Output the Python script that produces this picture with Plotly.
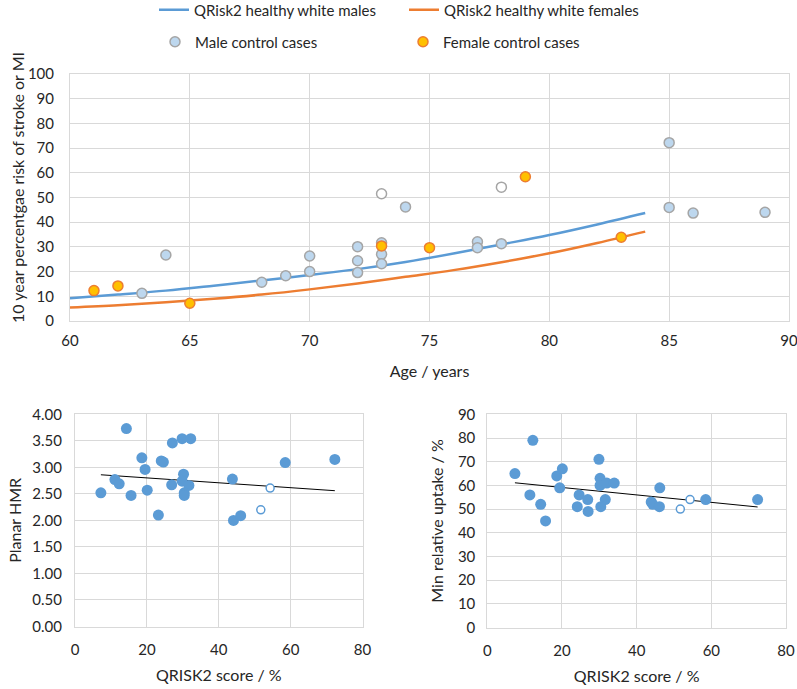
import plotly.graph_objects as go

# ---------------- data ----------------
# Top chart: QRisk2 curves (age in years, 10-year risk %)
curve_age = [60, 62, 64, 66, 68, 70, 72, 74, 76, 78, 80, 82, 84]
curve_male = [9.2, 10.7, 12.3, 14.3, 16.4, 18.6, 21.0, 23.9, 27.3, 31.0, 34.8, 39.1, 43.7]
curve_female = [5.5, 6.4, 7.6, 9.0, 10.7, 12.8, 15.2, 17.9, 20.6, 23.8, 27.4, 31.6, 36.2]

male_age = [63, 64, 68, 69, 70, 70, 72, 72, 72, 73, 73, 73, 74, 77, 77, 78, 85, 85, 86, 89]
male_risk = [11.2, 26.7, 15.7, 18.3, 26.3, 20.0, 30.1, 24.4, 19.6, 31.7, 27.0, 23.2, 46.2,
             32.1, 29.7, 31.3, 72.2, 46.0, 43.7, 44.0]
male_open_age = [73, 78]
male_open_risk = [51.5, 54.2]

female_age = [61, 62, 65, 73, 75, 79, 83]
female_risk = [12.3, 14.2, 7.2, 30.4, 29.7, 58.4, 33.9]

# Bottom-left: Planar HMR vs QRISK2 score
hmr_score = [14.3, 27.1, 29.8, 32.2, 18.6, 24.0, 24.6, 19.5, 30.2, 29.8, 11.1, 12.3, 26.9,
             31.7, 30.4, 30.4, 7.2, 15.6, 20.1, 23.2, 43.8, 44.1, 46.1, 58.5, 72.3]
hmr_value = [3.73, 3.46, 3.54, 3.54, 3.18, 3.12, 3.10, 2.96, 2.87, 2.74, 2.77, 2.69, 2.67,
             2.66, 2.52, 2.47, 2.52, 2.47, 2.57, 2.10, 2.78, 2.00, 2.09, 3.09, 3.15]
hmr_open_score = [54.3, 51.7]
hmr_open_value = [2.61, 2.20]
hmr_trend_score = [7.2, 72.3]
hmr_trend_value = [2.86, 2.56]

# Bottom-right: Min relative uptake vs QRISK2 score
upt_score = [7.4, 12.2, 11.4, 14.3, 15.6, 18.6, 20.1, 19.4, 24.6, 24.1, 26.9, 27.0, 29.9,
             30.2, 30.2, 32.0, 34.0, 31.6, 30.4, 43.9, 44.3, 46.2, 46.1, 58.5, 72.4]
upt_value = [65, 79, 56, 52, 45, 64, 67, 59, 56, 51, 54, 49, 71, 63, 60, 61, 61, 54, 51,
             53, 52, 59, 51, 54, 54]
upt_open_score = [54.3, 51.7]
upt_open_value = [54, 50]
upt_trend_score = [7.4, 72.4]
upt_trend_value = [61.1, 50.9]

# ---------------- styling ----------------
FONT = "Lato, 'Liberation Sans', sans-serif"
TXT = "#262626"
GRID = "#d9d9d9"
BLUE = "#5b9bd5"
ORANGE = "#ed7d31"
W, H = 797, 689

def px_x(p):
    return p / W

def px_y(p):
    return 1 - p / H

fig = go.Figure()

fig.add_trace(go.Scatter(x=curve_age, y=curve_male, mode="lines", line=dict(color=BLUE, width=2.5, shape="spline"),
                         name="QRisk2 healthy white males", legend="legend", xaxis="x", yaxis="y"))
fig.add_trace(go.Scatter(x=curve_age, y=curve_female, mode="lines", line=dict(color=ORANGE, width=2.5, shape="spline"),
                         name="QRisk2 healthy white females", legend="legend2", xaxis="x", yaxis="y"))
fig.add_trace(go.Scatter(x=male_age, y=male_risk, mode="markers",
                         marker=dict(size=10, color="#bdd7ee", line=dict(color="#a5a5a5", width=1.5)),
                         name="Male control cases", legend="legend3", xaxis="x", yaxis="y"))
fig.add_trace(go.Scatter(x=male_open_age, y=male_open_risk, mode="markers",
                         marker=dict(size=10, color="white", line=dict(color="#a5a5a5", width=1.5)),
                         showlegend=False, xaxis="x", yaxis="y"))
fig.add_trace(go.Scatter(x=female_age, y=female_risk, mode="markers",
                         marker=dict(size=10, color="#ffc000", line=dict(color=ORANGE, width=1.5)),
                         name="Female control cases", legend="legend4", xaxis="x", yaxis="y"))

# bottom-left
fig.add_trace(go.Scatter(x=hmr_trend_score, y=hmr_trend_value, mode="lines", line=dict(color="black", width=1),
                         showlegend=False, xaxis="x2", yaxis="y2"))
fig.add_trace(go.Scatter(x=hmr_score, y=hmr_value, mode="markers", marker=dict(size=11, color=BLUE),
                         showlegend=False, xaxis="x2", yaxis="y2"))
fig.add_trace(go.Scatter(x=hmr_open_score, y=hmr_open_value, mode="markers",
                         marker=dict(size=8, color="white", line=dict(color=BLUE, width=1.5)),
                         showlegend=False, xaxis="x2", yaxis="y2"))
# bottom-right
fig.add_trace(go.Scatter(x=upt_trend_score, y=upt_trend_value, mode="lines", line=dict(color="black", width=1),
                         showlegend=False, xaxis="x3", yaxis="y3"))
fig.add_trace(go.Scatter(x=upt_score, y=upt_value, mode="markers", marker=dict(size=11, color=BLUE),
                         showlegend=False, xaxis="x3", yaxis="y3"))
fig.add_trace(go.Scatter(x=upt_open_score, y=upt_open_value, mode="markers",
                         marker=dict(size=8, color="white", line=dict(color=BLUE, width=1.5)),
                         showlegend=False, xaxis="x3", yaxis="y3"))

axis_common = dict(showgrid=True, gridcolor=GRID, gridwidth=1, showline=True, linecolor=GRID, linewidth=1,
                   mirror=True, zeroline=False, ticks="", tickfont=dict(family=FONT, size=15, color=TXT),
                   fixedrange=True, automargin=False, ticklabeloverflow="allow")

legend_common = dict(orientation="h", bgcolor="rgba(0,0,0,0)", borderwidth=0,
                     font=dict(family=FONT, size=15, color=TXT), xanchor="left", yanchor="middle",
                     xref="container", yref="container", itemclick=False)

TITLE_FONT = dict(family=FONT, size=16, color=TXT)

fig.update_layout(
    template="none",
    width=W, height=H, paper_bgcolor="white", plot_bgcolor="white",
    margin=dict(l=0, r=0, t=0, b=0, autoexpand=False),
    font=dict(family=FONT, color=TXT),
    xaxis=dict(axis_common, domain=[px_x(70), px_x(789)], range=[60, 90], dtick=5, tick0=60,
               ticklabelstandoff=6, anchor="y",
               title=dict(text="Age / years", font=TITLE_FONT, standoff=17)),
    yaxis=dict(axis_common, domain=[px_y(321), px_y(74)], range=[0, 100], dtick=10,
               ticklabelstandoff=12, anchor="x"),
    xaxis2=dict(axis_common, domain=[px_x(75), px_x(362.5)], range=[0, 80], dtick=20, anchor="y2",
                ticklabelstandoff=9,
                title=dict(text="QRISK2 score / %", font=TITLE_FONT, standoff=13)),
    yaxis2=dict(axis_common, domain=[px_y(626.5), px_y(414.3)], range=[0, 4], dtick=0.5, tickformat=".2f",
                anchor="x2", ticklabelstandoff=9,
                title=dict(text="Planar HMR", font=TITLE_FONT, standoff=6)),
    xaxis3=dict(axis_common, domain=[px_x(487.3), px_x(786)], range=[0, 80], dtick=20, anchor="y3",
                ticklabelstandoff=9,
                title=dict(text="QRISK2 score / %", font=TITLE_FONT, standoff=13)),
    yaxis3=dict(axis_common, domain=[px_y(627.6), px_y(414.3)], range=[0, 90], dtick=10,
                anchor="x3", ticklabelstandoff=8,
                title=dict(text="Min relative uptake / %", font=TITLE_FONT, standoff=10)),
    legend=dict(legend_common, x=px_x(154), y=px_y(10)),
    legend2=dict(legend_common, x=px_x(404), y=px_y(10)),
    legend3=dict(legend_common, x=px_x(155), y=px_y(42)),
    legend4=dict(legend_common, x=px_x(403), y=px_y(42)),
    annotations=[dict(text="10 year percentgae risk of stroke or MI", textangle=-90,
                      xref="paper", yref="paper", x=px_x(18), y=px_y(188),
                      xanchor="center", yanchor="middle", showarrow=False, font=TITLE_FONT)],
)

fig.write_html("out.html", config={"displayModeBar": False},
               post_script="document.body.style.margin='0';")
